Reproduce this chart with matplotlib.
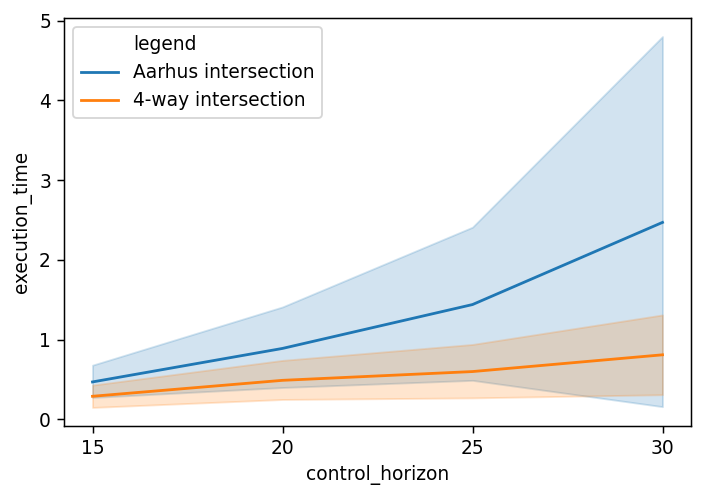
import matplotlib
matplotlib.use("Agg")
import matplotlib.pyplot as plt
from matplotlib.lines import Line2D

control_horizon = [15, 20, 25, 30]
series_names = ["Aarhus intersection", "4-way intersection"]
aarhus_mean = [0.47, 0.89, 1.44, 2.47]
aarhus_low = [0.275, 0.40, 0.49, 0.16]
aarhus_high = [0.68, 1.41, 2.41, 4.80]
fourway_mean = [0.29, 0.49, 0.60, 0.81]
fourway_low = [0.15, 0.25, 0.27, 0.31]
fourway_high = [0.43, 0.74, 0.94, 1.31]

colors = ["#1f77b4", "#ff7f0e"]

DPI = 134
fig = plt.figure(figsize=(705 / DPI, 497 / DPI), dpi=DPI)
ax = fig.add_axes([64 / 705, 1 - 426 / 497, (691 - 64) / 705, (426 - 18) / 497])

data = [(aarhus_mean, aarhus_low, aarhus_high), (fourway_mean, fourway_low, fourway_high)]
handles = [Line2D([], [], color="none", label="legend")]
for name, (m, lo, hi), c in zip(series_names, data, colors):
    ax.fill_between(control_horizon, lo, hi, color=c, alpha=0.2, linewidth=1)
    ln, = ax.plot(control_horizon, m, color=c, linewidth=1.5, label=name)
    handles.append(ln)

ax.set_xticks(control_horizon)
ax.set_xlabel("control_horizon", fontsize=10)
ax.set_ylabel("execution_time", fontsize=10)
ax.legend(handles=handles, loc="upper left", fontsize=10)

fig.savefig("out.png", dpi=DPI)
